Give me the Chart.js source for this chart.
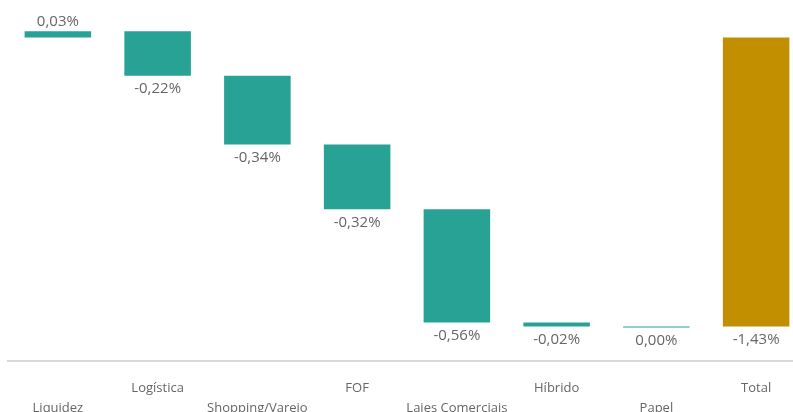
<!DOCTYPE html>
<html>
<head>
<meta charset="utf-8">
<script src="https://cdn.jsdelivr.net/npm/chart.js@4.4.1/dist/chart.umd.min.js"></script>
<style>
  html, body { margin: 0; padding: 0; background: #fff; overflow: hidden; }
  #wrap { width: 806px; height: 412px; }
</style>
</head>
<body>
<div id="wrap"><canvas id="waterfall" width="806" height="412"></canvas></div>
<script>
const categories = ['Liquidez', 'Logística', 'Shopping/Varejo', 'FOF', 'Lajes Comerciais', 'Híbrido', 'Papel', 'Total'];
const changes = [0.03, -0.22, -0.34, -0.32, -0.56, -0.02, 0.00];
const totalValue = -1.43;
const stepColor = '#27a295';
const totalColor = '#c18f00';

// floating bars: each step starts where the previous one ended
let running = 0;
const ranges = changes.map(v => {
    const start = running;
    running += v;
    return [start, running];
});
ranges.push([0, totalValue]);
const labelValues = changes.concat([totalValue]);
const barColors = categories.map((c, i) => i === categories.length - 1 ? totalColor : stepColor);

// stagger the axis labels on two rows
const axisLabels = categories.map((c, i) => i % 2 === 0 ? ['', c] : [c]);

const valueLabels = {
    id: 'valueLabels',
    afterDatasetsDraw(chart) {
        const ctx = chart.ctx;
        const meta = chart.getDatasetMeta(0);
        ctx.save();
        ctx.font = '15px "Open Sans", "Noto Sans", sans-serif';
        ctx.fillStyle = '#666666';
        ctx.textAlign = 'center';
        ctx.textBaseline = 'middle';
        meta.data.forEach((bar, i) => {
            const v = labelValues[i];
            const text = v.toFixed(2).replace('.', ',') + '%';
            const top = Math.min(bar.y, bar.base);
            const bottom = Math.max(bar.y, bar.base);
            if (v > 0) {
                ctx.fillText(text, bar.x, top - 10);
            } else {
                ctx.fillText(text, bar.x, bottom + 13);
            }
        });
        ctx.restore();
    }
};

const ctx = document.getElementById('waterfall').getContext('2d');
new Chart(ctx, {
    type: 'bar',
    data: {
        labels: axisLabels,
        datasets: [{
            data: ranges,
            backgroundColor: barColors,
            borderWidth: 0,
            barPercentage: 0.667,
            categoryPercentage: 1,
            minBarLength: 1
        }]
    },
    options: {
        responsive: false,
        animation: false,
        layout: { padding: { left: 8, right: 0, top: 0, bottom: 0 } },
        plugins: {
            legend: { display: false },
            tooltip: { enabled: false }
        },
        scales: {
            x: {
                grid: { display: false, drawTicks: false },
                border: { display: true, color: '#d9d9d9', width: 2 },
                ticks: {
                    color: '#666666',
                    padding: 17,
                    maxRotation: 0,
                    autoSkip: false,
                    font: { family: '"Open Sans", "Noto Sans", sans-serif', size: 13, lineHeight: 1.55 }
                },
                afterFit(scale) { scale.height = 51; }
            },
            y: {
                display: false,
                min: -1.6,
                max: 0.185
            }
        }
    },
    plugins: [valueLabels]
});
</script>
</body>
</html>
